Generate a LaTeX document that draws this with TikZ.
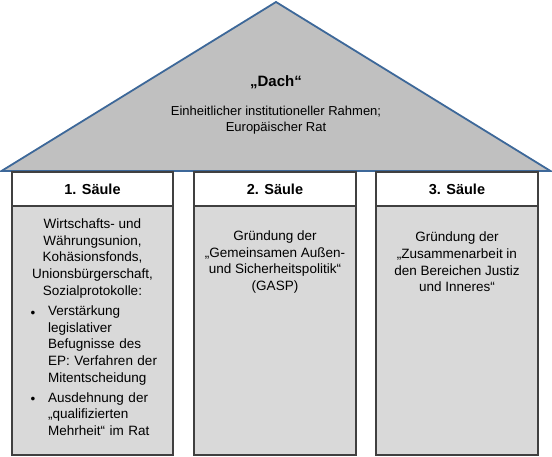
\documentclass[tikz,border=0pt]{standalone}
\usepackage{fontspec}
\setmainfont{Liberation Sans}
\definecolor{roofgray}{HTML}{C0C0C0}
\definecolor{roofblue}{HTML}{3D6899}
\definecolor{boxline}{HTML}{404040}
\definecolor{bodygray}{HTML}{D9D9D9}
\begin{document}
\begin{tikzpicture}[x=1pt,y=-1pt,
  roof/.style={fill=roofgray, draw=roofblue, line width=1.8pt, line join=miter},
  headbox/.style={draw=boxline, fill=white, line width=1.1pt, minimum width=162pt, minimum height=34pt, inner sep=0pt, font=\fontsize{14.5}{17}\selectfont\bfseries},
  bodybox/.style={draw=boxline, fill=bodygray, line width=1.1pt, minimum width=162pt, minimum height=249pt, inner sep=0pt},
  txt/.style={align=center, font=\fontsize{13.5}{16.7}\selectfont, inner sep=0pt},
  bultxt/.style={align=left, text width=110pt, font=\fontsize{13.5}{16.7}\selectfont, inner sep=0pt, anchor=north west},
  bul/.style={font=\fontsize{13.5}{16.7}\selectfont, inner sep=0pt, anchor=center}
]
\useasboundingbox (0,0) rectangle (552,457);
% roof
\coordinate (apex) at (276,2);
\coordinate (bl) at (1.5,171);
\coordinate (br) at (550.5,171);
\draw[roof] (bl) -- (apex) -- (br) -- cycle;
\node[txt, font=\fontsize{15}{18}\selectfont\bfseries] (dach) at (276,82) {„Dach“};
\node[txt, font=\fontsize{13}{16}\selectfont] (rahmen) at (276,120) {Einheitlicher institutioneller Rahmen;\\Europäischer Rat};
% pillars
\node[bodybox, minimum width=161pt] (b1) at (92.5,330.5) {};
\node[bodybox] (b2) at (275,330.5) {};
\node[bodybox] (b3) at (457,330.5) {};
\node[headbox, minimum width=161pt] (h1) at (92.5,189) {1. Säule};
\node[headbox] (h2) at (275,189) {2. Säule};
\node[headbox] (h3) at (457,189) {3. Säule};
% pillar 1 text
\node[txt] (t1) at (92.5,258.3) {Wirtschafts- und\\Währungsunion,\\Kohäsionsfonds,\\Unionsbürgerschaft,\\Sozialprotokolle:};
\node[bul] (bu1) at (33,314) {•};
\node[bultxt] (i1) at (48,305.5) {Verstärkung\\legislativer\\Befugnisse des\\\makebox[108pt][s]{EP: Verfahren der}\\Mitentscheidung};
\node[bul] (bu2) at (33,400.7) {•};
\node[bultxt] (i2) at (48,392.2) {\makebox[108pt][s]{Ausdehnung der}\\„qualifizierten\\Mehrheit“ im Rat};
% pillar 2 text
\node[txt] (t2) at (275,262) {Gründung der\\„Gemeinsamen Außen-\\und Sicherheitspolitik“\\(GASP)};
% pillar 3 text
\node[txt] (t3) at (457,262) {Gründung der\\„Zusammenarbeit in\\den Bereichen Justiz\\und Inneres“};
\end{tikzpicture}
\end{document}
